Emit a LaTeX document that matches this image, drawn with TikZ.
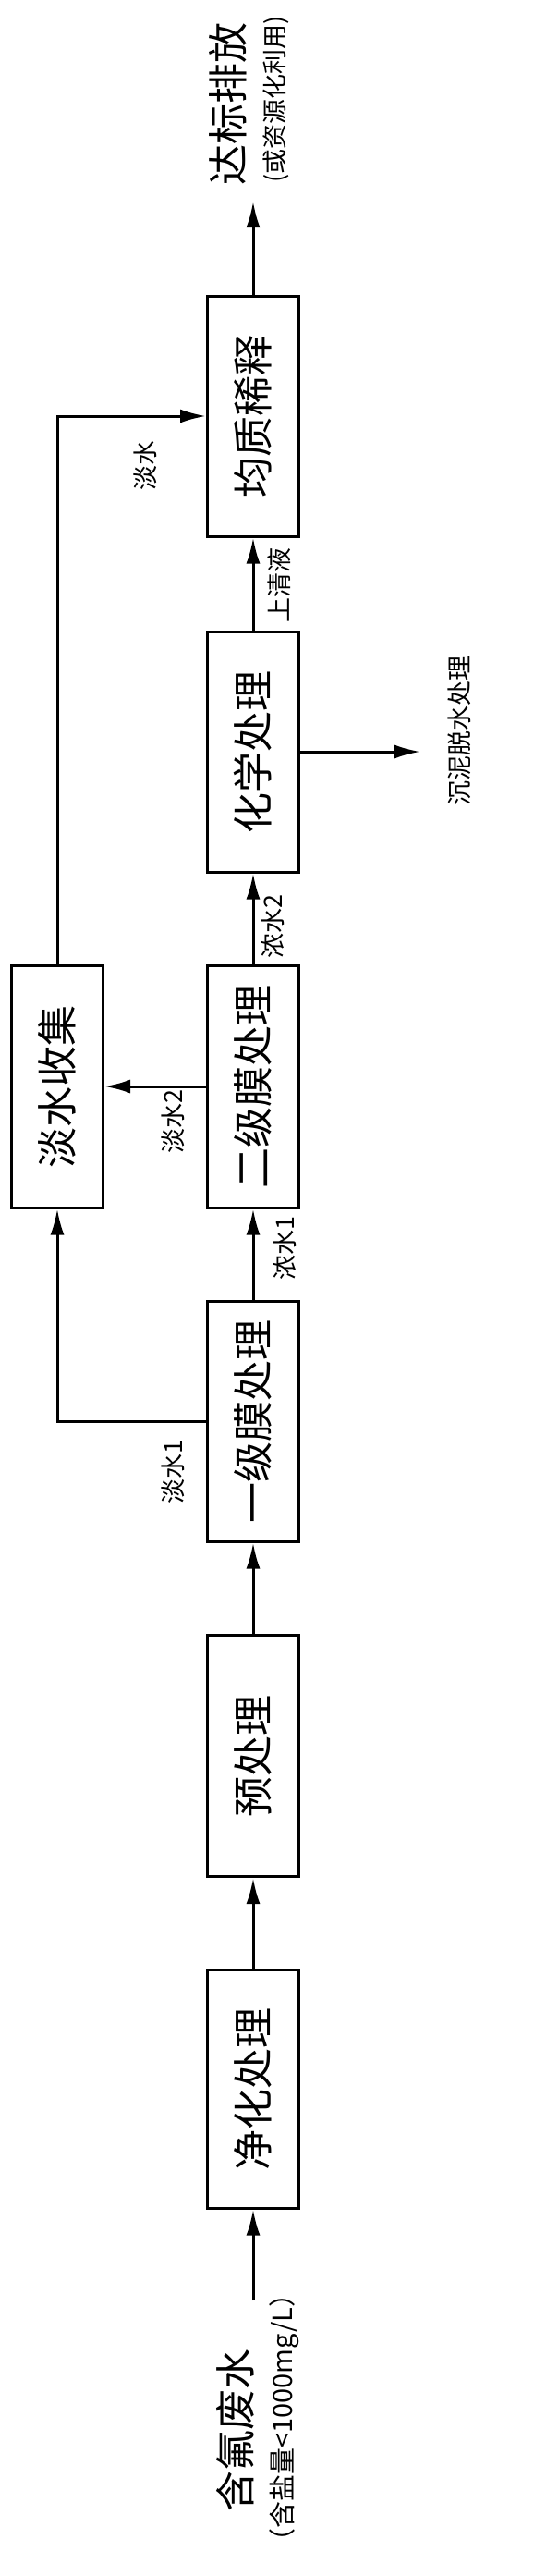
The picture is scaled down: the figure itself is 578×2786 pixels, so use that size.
\documentclass[tikz,border=0pt]{standalone}
\usepackage{fontspec}
\setmainfont{Noto Sans CJK SC}
\usetikzlibrary{arrows.meta}
\tikzset{
  box/.style={draw, line width=3pt, minimum width=99pt, minimum height=260pt, inner sep=0pt, rotate=90, font=\fontsize{44}{48}\selectfont},
  boxv/.style={draw, line width=3pt, inner sep=0pt},
  arr/.style={line width=3pt, -{Latex[length=28pt,width=15pt]}},
  ln/.style={line width=3pt},
  big/.style={rotate=90, inner sep=0pt, font=\fontsize{44}{48}\selectfont},
  mid/.style={rotate=90, inner sep=0pt, font=\fontsize{29}{32}\selectfont},
  lab/.style={rotate=90, inner sep=0pt, font=\fontsize{27}{30}\selectfont}
}
\begin{document}
\begin{tikzpicture}[x=1pt,y=-1pt]
\fill[white] (0,0) rectangle (578,2786);
\useasboundingbox (0,0) rectangle (578,2786);
% boxes (rotated: width/height swapped by rotation)
\node[draw, line width=3pt, minimum width=99pt, minimum height=260pt, inner sep=0pt] (hom) at (274,450) {};
\node[big] at (hom.center) {均质稀释};
\node[draw, line width=3pt, minimum width=99pt, minimum height=260pt, inner sep=0pt] (chem) at (274,813) {};
\node[big] at (chem.center) {化学处理};
\node[draw, line width=3pt, minimum width=99pt, minimum height=262pt, inner sep=0pt] (m2) at (274,1175) {};
\node[big] at (m2.center) {二级膜处理};
\node[draw, line width=3pt, minimum width=99pt, minimum height=262pt, inner sep=0pt] (col) at (62,1175) {};
\node[big] at (col.center) {淡水收集};
\node[draw, line width=3pt, minimum width=99pt, minimum height=260pt, inner sep=0pt] (m1) at (274,1537) {};
\node[big] at (m1.center) {一级膜处理};
\node[draw, line width=3pt, minimum width=99pt, minimum height=261pt, inner sep=0pt] (pre) at (274,1899) {};
\node[big] at (pre.center) {预处理};
\node[draw, line width=3pt, minimum width=99pt, minimum height=258pt, inner sep=0pt] (pur) at (274,2259) {};
\node[big] at (pur.center) {净化处理};
% free ends
\coordinate (in) at (274,2488);
\coordinate (out) at (274,218);
\coordinate (sl) at (455,813);
% connectors
\draw[arr] (in) -- (pur.south);
\draw[arr] (pur.north) -- (pre.south);
\draw[arr] (pre.north) -- (m1.south);
\draw[arr] (m1.north) -- (m2.south);
\draw[arr] (m2.north) -- (chem.south);
\draw[arr] (chem.north) -- (hom.south);
\draw[arr] (hom.north) -- (out);
\draw[arr] (chem.east) -- (sl);
\draw[arr] (m2.west) -- (col.east);
\draw[arr] (m1.west) -| (col.south);
\draw[arr] (col.north) |- (hom.west);
% labels
\node[big] (t1) at (247,112) {达标排放};
\node[lab] (t2) at (299,107) {(或资源化利用)};
\node[lab] (t3) at (157,503) {淡水};
\node[lab] (t4) at (302,633) {上清液};
\node[lab] (t5) at (497,790) {沉泥脱水处理};
\node[lab] (t6) at (295,1002) {浓水2};
\node[lab] (t7) at (187,1213) {淡水2};
\node[lab] (t8) at (308,1350) {浓水1};
\node[lab] (t9) at (187,1592) {淡水1};
\node[big] (t10) at (255,2628) {含氟废水};
\node[mid] (t11) at (308,2615) {（含盐量<1000mg/L）};
\end{tikzpicture}
\end{document}
